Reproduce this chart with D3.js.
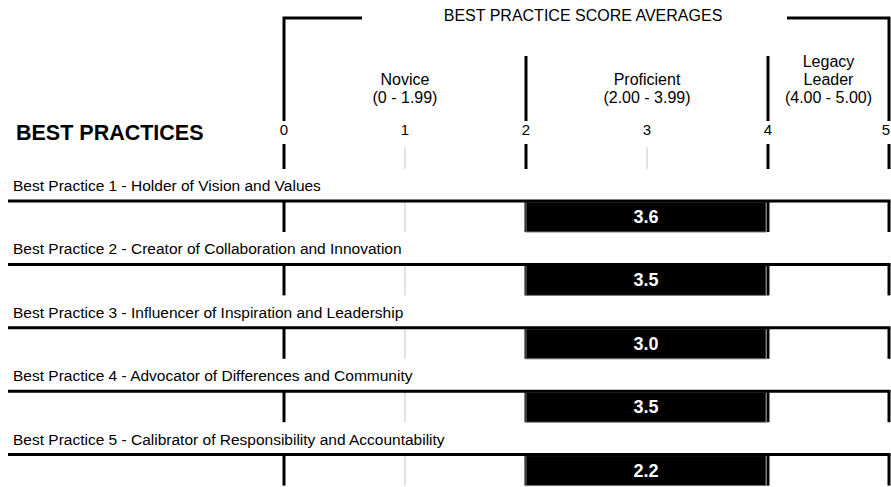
<!DOCTYPE html>
<html><head><meta charset="utf-8">
<script src="https://cdn.jsdelivr.net/npm/d3@7"></script>
<style>html,body{margin:0;padding:0;background:#fff;}svg{display:block;font-family:"Liberation Sans",Arial,sans-serif;}</style>
</head><body>
<script>
const practices = [
  "Best Practice 1 - Holder of Vision and Values",
  "Best Practice 2 - Creator of Collaboration and Innovation",
  "Best Practice 3 - Influencer of Inspiration and Leadership",
  "Best Practice 4 - Advocator of Differences and Community",
  "Best Practice 5 - Calibrator of Responsibility and Accountability"
];
const scores = [3.6, 3.5, 3.0, 3.5, 2.2];
const tickValues = [0, 1, 2, 3, 4, 5];
const majorTicks = [0, 2, 4, 5];
const bandBreaks = [0, 2, 4, 5];
const bandNames = [["Novice"], ["Proficient"], ["Legacy", "Leader"]];
const bandRanges = ["(0 - 1.99)", "(2.00 - 3.99)", "(4.00 - 5.00)"];
const headerTitle = "BEST PRACTICE SCORE AVERAGES";
const sideTitle = "BEST PRACTICES";

const W = 891, H = 487;
const svg = d3.select("body").append("svg").attr("width", W).attr("height", H);
const x = d3.scaleLinear().domain([0, 5]).range([284, 889]);
const y = d3.scaleBand().domain(practices).range([170, 487]);

// header bracket
const hy = 18, headBottom = 121;
svg.append("path")
  .attr("d", `M${x(0)},${headBottom}V${hy}H362`)
  .attr("fill", "none").attr("stroke", "#000").attr("stroke-width", 3);
svg.append("path")
  .attr("d", `M787,${hy}H${x(5)}V${headBottom}`)
  .attr("fill", "none").attr("stroke", "#000").attr("stroke-width", 3);
svg.append("text").attr("x", 583).attr("y", 21).attr("text-anchor", "middle")
  .attr("font-size", 16).text(headerTitle);

// band dividers (inner)
svg.selectAll("line.div").data(bandBreaks.slice(1, -1)).join("line")
  .attr("x1", d => x(d)).attr("x2", d => x(d)).attr("y1", 56).attr("y2", headBottom)
  .attr("stroke", "#000").attr("stroke-width", 3);

// band labels
bandNames.forEach((names, i) => {
  const cx = (x(bandBreaks[i]) + x(bandBreaks[i + 1])) / 2;
  const lines = names.concat([bandRanges[i]]);
  const n = lines.length;
  lines.forEach((t, j) => {
    svg.append("text").attr("x", cx).attr("y", 103 - (n - 1 - j) * 18)
      .attr("text-anchor", "middle").attr("font-size", 16).text(t);
  });
});

// axis tick labels
svg.selectAll("text.tick").data(tickValues).join("text")
  .attr("x", d => d === 5 ? x(d) + 1 : x(d))
  .attr("y", 135)
  .attr("text-anchor", d => d === 5 ? "end" : "middle")
  .attr("font-size", 15).text(d => d);

// header lower tick segments
svg.selectAll("line.ht").data(tickValues).join("line")
  .attr("x1", d => x(d)).attr("x2", d => x(d))
  .attr("y1", d => majorTicks.includes(d) ? 144 : 147).attr("y2", 169)
  .attr("stroke", d => majorTicks.includes(d) ? "#000" : "#c8c8c8")
  .attr("stroke-width", d => majorTicks.includes(d) ? 3 : 1);

svg.append("text").attr("x", 16).attr("y", 140).attr("font-size", 21.5)
  .attr("font-weight", "bold").text(sideTitle);

// rows
const rows = svg.selectAll("g.row").data(practices).join("g")
  .attr("transform", d => `translate(0,${y(d)})`);

rows.append("text").attr("x", 13).attr("y", 21).attr("font-size", 15.5)
  .text(d => d);

const lineY = 31;
rows.selectAll("line.tk").data(tickValues).join("line")
  .attr("x1", d => x(d)).attr("x2", d => x(d))
  .attr("y1", lineY).attr("y2", lineY + 31)
  .attr("stroke", d => majorTicks.includes(d) ? "#000" : "#c8c8c8")
  .attr("stroke-width", d => majorTicks.includes(d) ? 3 : 1);

rows.each(function(p, i) {
  const v = scores[i];
  let b = 0;
  for (let k = 0; k < bandBreaks.length - 1; k++) {
    if (v >= bandBreaks[k] && v < bandBreaks[k + 1]) b = k;
  }
  const g = d3.select(this);
  const x0 = x(bandBreaks[b]), x1 = x(bandBreaks[b + 1]) - 2;
  g.append("rect").attr("x", x0).attr("y", lineY + 1)
    .attr("width", x1 - x0).attr("height", 30)
    .attr("fill", "#000").attr("stroke", "#777").attr("stroke-width", 1);
  g.append("text").attr("x", (x0 + x1) / 2).attr("y", lineY + 22)
    .attr("text-anchor", "middle").attr("font-size", 18).attr("font-weight", "bold")
    .attr("fill", "#fff").text(v.toFixed(1));
});

rows.append("line").attr("x1", 8).attr("x2", x(5) + 1.5)
  .attr("y1", lineY).attr("y2", lineY)
  .attr("stroke", "#000").attr("stroke-width", 3);
</script>
</body></html>
